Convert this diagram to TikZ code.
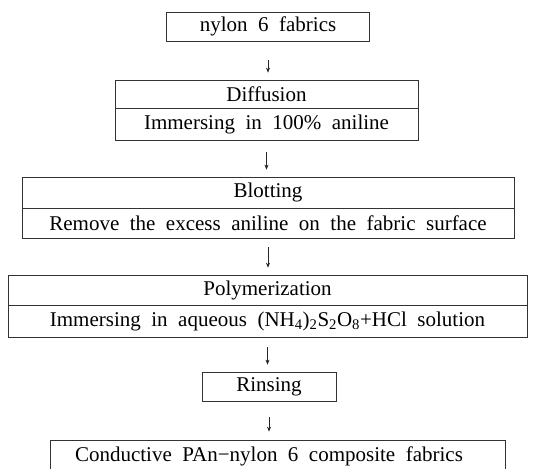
\documentclass[tikz,border=0pt]{standalone}
\usepackage{fontspec}
\setmainfont{Liberation Serif}[WordSpace=2]
\usetikzlibrary{arrows.meta}
\begin{document}
\begin{tikzpicture}[x=1pt,y=-1pt,
  box/.style={draw=black!80, line width=0.7pt, inner sep=0pt, font=\fontsize{21}{25}\selectfont, anchor=center},
  txt/.style={inner sep=0pt, font=\fontsize{21}{25}\selectfont, anchor=center},
  arr/.style={draw=black!85, line width=0.7pt, -{Stealth[length=5pt,width=4pt]}}]
\useasboundingbox (0,0) rectangle (536,469);
\node[box, minimum width=203pt, minimum height=29pt] (n1) at (268,26.5) {nylon 6 fabrics};
\node[box, minimum width=303pt, minimum height=28pt] (d1) at (266.5,94) {Diffusion};
\node[box, minimum width=303pt, minimum height=32pt] (d2) at (266.5,124) {Immersing in 100\% aniline};
\node[box, minimum width=492pt, minimum height=31pt] (b1) at (268,192.5) {Blotting};
\node[box, minimum width=492pt, minimum height=30pt] (b2) at (268,223) {Remove the excess aniline on the fabric surface};
\node[box, minimum width=519pt, minimum height=30pt] (p1) at (267.5,290) {Polymerization};
\node[box, minimum width=519pt, minimum height=32pt] (p2) at (267.5,321) {Immersing in aqueous (NH\textsubscript{4})\textsubscript{2}S\textsubscript{2}O\textsubscript{8}+HCl solution};
\node[box, minimum width=134pt, minimum height=29pt] (r) at (269,386.5) {Rinsing};
\node[box, minimum width=455pt, minimum height=32pt] (c) at (277.5,456) {};
\node[txt] (ct) at (269,456) {Conductive PAn−nylon 6 composite fabrics};
\draw[arr, shorten <=19pt, shorten >=7pt] (n1.south) -- (n1.south |- d1.north);
\draw[arr, shorten <=12pt, shorten >=7pt] (d2.south) -- (d2.south |- b1.north);
\draw[arr, shorten <=9pt, shorten >=7pt] (b2.south) -- (b2.south |- p1.north);
\draw[arr, shorten <=10pt, shorten >=7pt] (p2.south) -- (p2.south |- r.north);
\draw[arr, shorten <=16pt, shorten >=8pt] (r.south) -- (r.south |- c.north);
\end{tikzpicture}
\end{document}
